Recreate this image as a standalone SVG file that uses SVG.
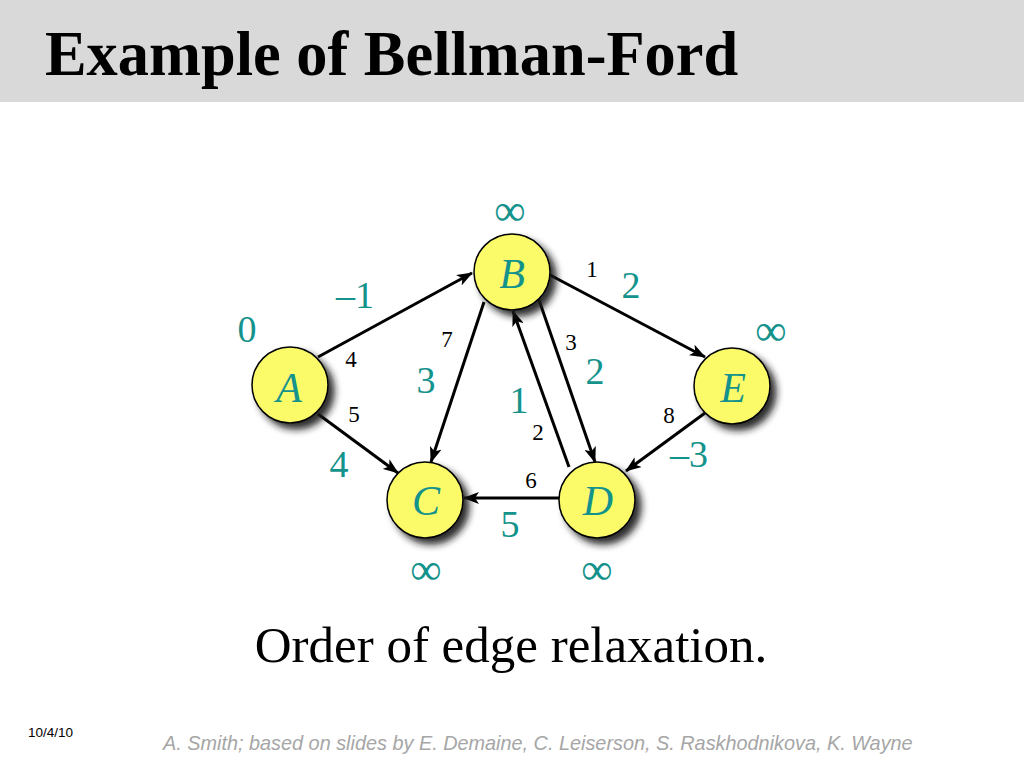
<svg xmlns="http://www.w3.org/2000/svg" width="1024" height="768" viewBox="0 0 1024 768">
<style>
.title{font-family:"Liberation Serif","Times New Roman",serif;font-weight:bold;font-size:62.4px;fill:#000}
.sub{font-family:"Liberation Serif","Times New Roman",serif;font-size:51px;fill:#000}
.node{fill:#fbfb6b;stroke:#000;stroke-width:1.5}
.lbl{font-family:"Liberation Serif","Times New Roman",serif;font-style:italic;font-size:42px;fill:#14928c;text-anchor:middle}
.w{font-family:"Liberation Serif","Times New Roman",serif;font-size:38px;fill:#14928c;text-anchor:middle}
.inf{font-family:"Liberation Serif","Times New Roman",serif;font-size:44px;fill:#14928c;text-anchor:middle}
.s{font-family:"Liberation Serif","Times New Roman",serif;font-size:23px;fill:#000;text-anchor:middle}
.edge{stroke:#000;stroke-width:3;fill:none;marker-end:url(#arr)}
.date{font-family:"Liberation Sans",Arial,sans-serif;font-size:13.5px;fill:#000}
.cred{font-family:"Liberation Sans",Arial,sans-serif;font-style:italic;font-size:19.85px;fill:#a6a6a6}
</style>
<defs>
<marker id="arr" viewBox="0 0 16 12" refX="15" refY="6" markerWidth="16" markerHeight="12" markerUnits="userSpaceOnUse" orient="auto">
<path d="M0,0 L16,6 L0,12 L4,6 z" fill="#000"/>
</marker>
<filter id="sh" x="-30%" y="-30%" width="170%" height="170%">
<feGaussianBlur in="SourceAlpha" stdDeviation="3.5"/>
<feOffset dx="6" dy="6" result="b"/>
<feFlood flood-color="#1a1a1a" flood-opacity="0.9"/>
<feComposite in2="b" operator="in" result="s"/>
<feMerge><feMergeNode in="s"/><feMergeNode in="SourceGraphic"/></feMerge>
</filter>
</defs>
<rect x="0" y="0" width="1024" height="768" fill="#fff"/>
<rect x="0" y="0" width="1024" height="102" fill="#d9d9d9"/>
<text class="title" x="45" y="75">Example of Bellman-Ford</text>

<g id="connectors">
<line class="edge" x1="318" y1="357" x2="472" y2="273"/>
<line class="edge" x1="318" y1="414" x2="398" y2="473"/>
<line class="edge" x1="484" y1="302" x2="431" y2="462"/>
<line class="edge" x1="569" y1="467" x2="513" y2="311"/>
<line class="edge" x1="539" y1="300" x2="595" y2="462"/>
<line class="edge" x1="550" y1="275" x2="705" y2="357"/>
<line class="edge" x1="705" y1="413" x2="626" y2="471"/>
<line class="edge" x1="559" y1="498" x2="464" y2="498"/>
</g>

<g id="node-A">
<circle class="node" cx="290" cy="385" r="38" filter="url(#sh)"/>
<text class="lbl" x="289" y="402">A</text>
</g>
<g id="node-B">
<circle class="node" cx="512" cy="272" r="38" filter="url(#sh)"/>
<text class="lbl" x="512" y="288">B</text>
</g>
<g id="node-C">
<circle class="node" cx="425" cy="500" r="38" filter="url(#sh)"/>
<text class="lbl" x="426" y="515">C</text>
</g>
<g id="node-D">
<circle class="node" cx="597" cy="500" r="38" filter="url(#sh)"/>
<text class="lbl" x="598" y="515">D</text>
</g>
<g id="node-E">
<circle class="node" cx="732" cy="386" r="38" filter="url(#sh)"/>
<text class="lbl" x="733" y="402">E</text>
</g>

<g id="distances">
<text class="w" x="247" y="342">0</text>
<text class="inf" x="510" y="225">∞</text>
<text class="inf" x="771" y="345">∞</text>
<text class="inf" x="426" y="584">∞</text>
<text class="inf" x="597" y="584">∞</text>
</g>

<g id="weights">
<text class="w" x="355" y="308">–1</text>
<text class="w" x="426" y="393">3</text>
<text class="w" x="339" y="477">4</text>
<text class="w" x="519" y="413">1</text>
<text class="w" x="595" y="384">2</text>
<text class="w" x="631" y="298">2</text>
<text class="w" x="689" y="467">–3</text>
<text class="w" x="510" y="537">5</text>
</g>

<g id="order">
<text class="s" x="351" y="367">4</text>
<text class="s" x="354" y="422">5</text>
<text class="s" x="447" y="347">7</text>
<text class="s" x="538" y="440">2</text>
<text class="s" x="571" y="350">3</text>
<text class="s" x="592" y="277">1</text>
<text class="s" x="669" y="423">8</text>
<text class="s" x="531" y="488">6</text>
</g>

<text class="sub" x="511" y="662" text-anchor="middle">Order of edge relaxation.</text>
<text class="date" x="28" y="737">10/4/10</text>
<text class="cred" x="163" y="750">A. Smith; based on slides by E. Demaine, C. Leiserson, S. Raskhodnikova, K. Wayne</text>
</svg>
